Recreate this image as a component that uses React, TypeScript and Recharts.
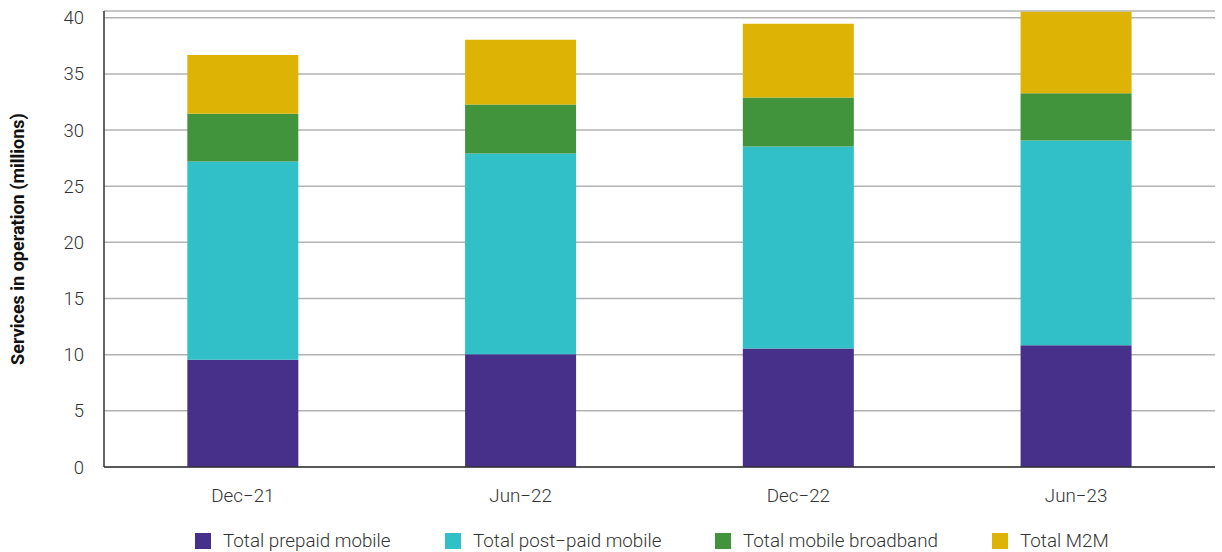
import { Bar, BarChart, CartesianGrid, XAxis, YAxis } from "recharts"

const periods = ["Dec\u221221", "Jun\u221222", "Dec\u221222", "Jun\u221223"]
const prepaid = [9.55, 10.03, 10.56, 10.85]
const postpaid = [17.65, 17.88, 17.97, 18.22]
const broadband = [4.26, 4.36, 4.36, 4.2]
const m2m = [5.23, 5.76, 6.58, 7.27]
const yTicks = [0, 5, 10, 15, 20, 25, 30, 35, 40]

const series = [
  { key: "prepaid", name: "Total prepaid mobile", color: "#46308A" },
  { key: "postpaid", name: "Total post\u2212paid mobile", color: "#31BFC8" },
  { key: "broadband", name: "Total mobile broadband", color: "#42943C" },
  { key: "m2m", name: "Total M2M", color: "#DDB405" },
]

const data = periods.map((p, i) => ({
  period: p,
  prepaid: prepaid[i],
  postpaid: postpaid[i],
  broadband: broadband[i],
  m2m: m2m[i],
}))

const font = "Roboto, 'Noto Sans', sans-serif"

function LegendRow() {
  const lefts = [195, 445, 715, 992]
  return (
    <div style={{ position: "absolute", left: 0, top: 531, width: 1222, height: 20, fontFamily: font, fontSize: 18.8, fontWeight: 300, color: "#333" }}>
      {series.map((s, i) => (
        <div key={s.key} style={{ position: "absolute", left: lefts[i], top: 0, display: "flex", alignItems: "center", whiteSpace: "nowrap", lineHeight: "20px" }}>
          <span style={{ display: "inline-block", width: 16, height: 16, background: s.color, marginRight: 12 }} />
          <span>{s.name}</span>
        </div>
      ))}
    </div>
  )
}

export default function App() {
  return (
    <div style={{ position: "absolute", left: 0, top: 0, width: 1222, height: 552, background: "#fff" }}>
      <BarChart
        width={1222}
        height={552}
        data={data}
        barCategoryGap="30%"
        margin={{ top: 11, right: 7, left: 0, bottom: 0 }}
      >
        <CartesianGrid vertical={false} stroke="#b3b3b3" strokeWidth={1.5} />
        <YAxis
          width={104}
          domain={[0, 40.6]}
          ticks={yTicks}
          interval={0}
          tickLine={false}
          tickSize={0}
          tickMargin={20}
          axisLine={{ stroke: "#333", strokeWidth: 1.5 }}
          tick={{ fill: "#333", fontSize: 18.5, fontWeight: 300, fontFamily: font }}
          label={{
            value: "Services in operation (millions)",
            angle: -90,
            position: "insideLeft",
            offset: 18,
            style: { textAnchor: "middle", fontWeight: 700, fontSize: 18, fill: "#111", fontFamily: font },
          }}
        />
        <XAxis
          dataKey="period"
          height={85}
          tickLine={false}
          tickSize={0}
          tickMargin={22}
          axisLine={{ stroke: "#333", strokeWidth: 1.5 }}
          tick={{ fill: "#333", fontSize: 18.8, fontWeight: 300, fontFamily: font }}
        />
        {series.map((s) => (
          <Bar key={s.key} dataKey={s.key} name={s.name} stackId="a" fill={s.color} isAnimationActive={false} />
        ))}
      </BarChart>
      <LegendRow />
    </div>
  )
}
